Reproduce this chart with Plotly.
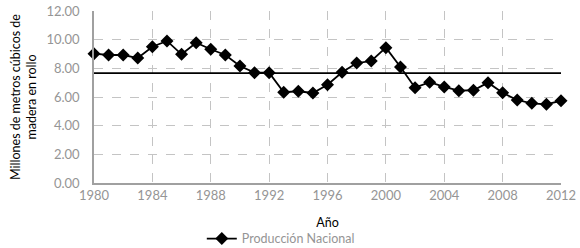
import plotly.graph_objects as go

anios = list(range(1980, 2013))
produccion = [9.02, 8.93, 8.93, 8.72, 9.51, 9.91, 8.98, 9.79, 9.33, 8.93,
              8.16, 7.70, 7.70, 6.33, 6.40, 6.28, 6.86, 7.72, 8.37, 8.51,
              9.44, 8.09, 6.65, 7.03, 6.70, 6.44, 6.47, 7.00, 6.30, 5.79,
              5.56, 5.49, 5.74]
promedio = 7.66
x_ticks = list(range(1980, 2013, 4))
y_ticks = [0, 2, 4, 6, 8, 10, 12]
y_tick_text = ["0.00", "2.00", "4.00", "6.00", "8.00", "10.00", "12.00"]

fig = go.Figure()
fig.add_trace(go.Scatter(
    x=[anios[0], anios[-1]], y=[promedio, promedio], mode="lines",
    line=dict(color="black", width=1.8), showlegend=False, hoverinfo="skip",
    cliponaxis=False))
fig.add_trace(go.Scatter(
    x=anios, y=produccion, mode="lines+markers", name="Producción Nacional",
    line=dict(color="black", width=1.8),
    marker=dict(symbol="diamond", size=10, color="black"),
    cliponaxis=False))

grey = "#959595"
fig.update_layout(
    width=580, height=248,
    margin=dict(l=94, r=19, t=11, b=65, autoexpand=False),
    paper_bgcolor="white", plot_bgcolor="white",
    font=dict(family="Lato, DejaVu Sans, sans-serif", size=12, color=grey),
    showlegend=True,
    legend=dict(orientation="h", x=0.40, xanchor="center", y=-0.325, yanchor="middle",
                font=dict(size=12.5, color=grey), itemwidth=30,
                bgcolor="rgba(0,0,0,0)"),
    xaxis=dict(range=[1980, 2012], tickvals=x_ticks, ticks="",
               showgrid=True, gridcolor="#c4c4c4", griddash="dash", gridwidth=1,
               showline=True, linecolor="#a0a0a0", linewidth=1.5, zeroline=False,
               tickfont=dict(size=13, color=grey), automargin=False,
               title=dict(text="Año", font=dict(size=12.5, color="black"), standoff=16)),
    yaxis=dict(range=[0, 12], tickvals=y_ticks, ticktext=y_tick_text, ticks="",
               showgrid=True, gridcolor="#c4c4c4", griddash="dash", gridwidth=1,
               showline=True, linecolor="#a0a0a0", linewidth=1.5, zeroline=False,
               tickfont=dict(size=13, color=grey), ticklabelstandoff=10,
               automargin=False,
               title=dict(text="Millones de metros cúbicos de<br>madera en rollo",
                          font=dict(size=12.5, color="black"), standoff=7)),
)
fig.write_html("out.html", config={"displayModeBar": False},
               post_script="document.body.style.margin='0';document.body.style.overflow='hidden';")
